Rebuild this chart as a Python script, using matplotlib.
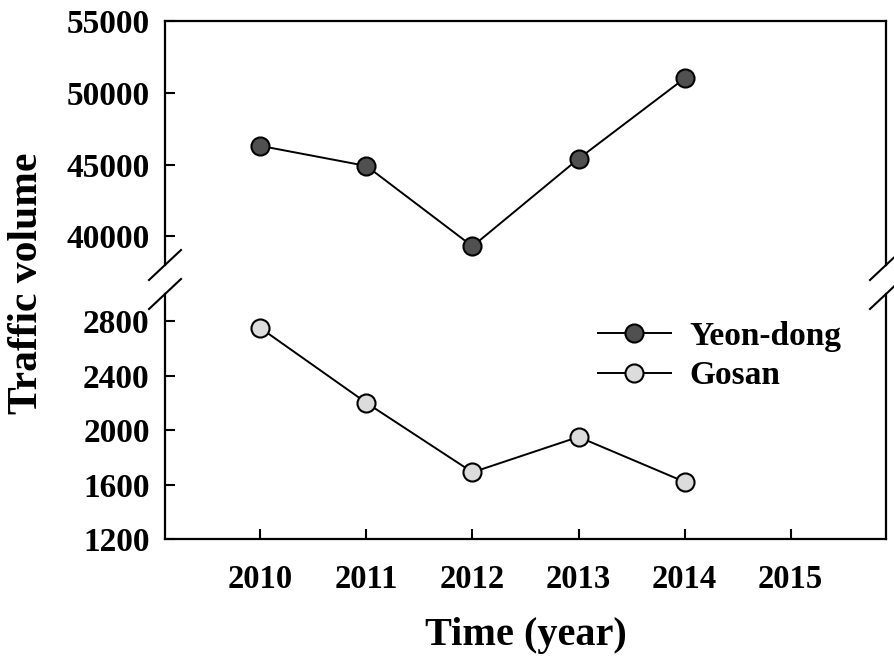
import numpy as np
from matplotlib import pyplot as plt

years = [2010, 2011, 2012, 2013, 2014]
yeon_dong = [46300, 44900, 39300, 45400, 51000]
gosan = [2750, 2200, 1690, 1950, 1620]

x_ticks = [2010, 2011, 2012, 2013, 2014, 2015]
upper_ticks = [40000, 45000, 50000, 55000]
lower_ticks = [1200, 1600, 2000, 2400, 2800]

plt.rcParams['font.family'] = ['Liberation Serif', 'DejaVu Serif']
plt.rcParams['font.weight'] = 'bold'

W, H = 895, 658
fig = plt.figure(figsize=(W / 100, H / 100), dpi=100)

left, right = 165 / W, 886 / W
ax_top = fig.add_axes([left, 1 - 265 / H, right - left, (265 - 21) / H])
ax_bot = fig.add_axes([left, 1 - 539 / H, right - left, (539 - 294) / H])

line_kw = dict(color='black', linewidth=1.4, markersize=13,
               markeredgecolor='black', markeredgewidth=1.5, marker='o')
l1, = ax_top.plot(years, yeon_dong, markerfacecolor='#505050', label='Yeon-dong', **line_kw)
l2, = ax_bot.plot(years, gosan, markerfacecolor='#dcdcdc', label='Gosan', **line_kw)

for ax in (ax_top, ax_bot):
    ax.set_xlim(2009.1, 2015.9)
    for s in ax.spines.values():
        s.set_linewidth(1.6)
    ax.tick_params(direction='in', length=7, width=1.5, labelsize=24,
                   top=False, right=False, pad=11)

ax_top.set_ylim(38000, 55000)
ax_top.set_yticks(upper_ticks)
ax_top.spines['bottom'].set_visible(False)
ax_top.tick_params(axis='x', bottom=False, labelbottom=False)

ax_bot.set_ylim(1200, 3000)
ax_bot.set_yticks(lower_ticks)
ax_bot.set_xticks(x_ticks)
ax_bot.spines['top'].set_visible(False)
ax_bot.tick_params(axis='x', labelsize=23.5, pad=18)

for t in ax_top.get_yticklabels() + ax_bot.get_yticklabels() + ax_bot.get_xticklabels():
    t.set_fontweight('bold')

# break marks across both side spines
dx, dy = 16 / W, 15 / H
for xs in (left, right):
    for yc in (1 - 265 / H, 1 - 294 / H):
        fig.add_artist(plt.Line2D([xs - dx, xs + dx], [yc - dy, yc + dy],
                                  transform=fig.transFigure, color='black', linewidth=1.5))

ax_bot.set_xlabel('Time (year)', fontsize=29, fontweight='bold', labelpad=16)
fig.text(27 / W, 1 - 283 / H, 'Traffic volume', rotation=90, fontsize=30,
         fontweight='bold', ha='center', va='center')

ax_bot.legend(handles=[l1, l2], loc='upper left', bbox_to_anchor=(0.6, 0.89),
              frameon=False, handlelength=2.2, handletextpad=0.55,
              labelspacing=0.25, borderpad=0, borderaxespad=0,
              prop={'weight': 'bold', 'size': 24})

fig.savefig('out.png', dpi=100)
